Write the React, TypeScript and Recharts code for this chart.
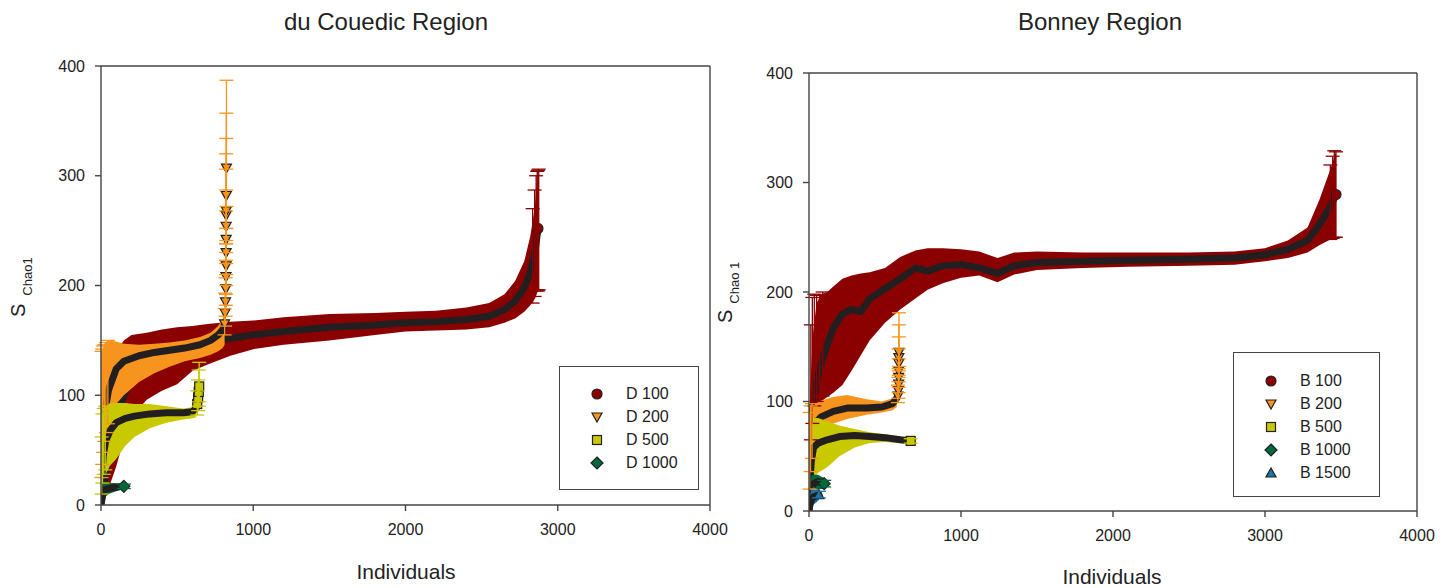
import { ComposedChart, Area, Line, Scatter, ErrorBar, XAxis, YAxis, ReferenceLine, Legend } from "recharts";

// rows: [individuals, S chao1, lower CI, upper CI]
type Row = [number, number, number, number];
// tips / caps: [individuals, S chao1, minus, plus]
type Tip = [number, number, number, number];

const X_TICKS = [0, 1000, 2000, 3000, 4000];
const Y_TICKS = [0, 100, 200, 300, 400];

// du Couedic region
const D100: Row[] = [
  [3, 3, 0, 15], [20, 20, 5, 60], [50, 45, 15, 110], [100, 80, 35, 140], [150, 100, 60, 150],
  [200, 115, 80, 155], [300, 127, 96, 157], [400, 135, 104, 160], [500, 141, 110, 162],
  [600, 146, 122, 163], [700, 149, 128, 165], [850, 152, 136, 167], [1000, 155, 142, 168],
  [1200, 158, 146, 171], [1500, 162, 150, 174], [1800, 164, 155, 175], [2000, 166, 158, 176],
  [2200, 167, 159, 177], [2400, 169, 160, 180], [2550, 172, 162, 184], [2650, 178, 166, 192],
  [2720, 186, 170, 204], [2780, 198, 176, 222], [2820, 212, 182, 245], [2850, 230, 188, 272],
  [2870, 252, 195, 305],
];
const D100_TIP: Tip[] = [[2870, 252, 57, 53]];
const D100_CAPS: Tip[] = [
  [2835, 222, 38, 48], [2848, 232, 42, 55], [2858, 240, 45, 60], [2865, 246, 50, 58], [2875, 250, 54, 56],
];

const D200: Row[] = [
  [2, 30, 15, 100], [10, 60, 35, 140], [25, 85, 55, 148], [50, 105, 75, 150], [100, 124, 92, 149],
  [150, 131, 100, 147], [250, 136, 112, 146], [350, 139, 120, 147], [450, 141, 126, 148],
  [550, 143, 131, 150], [650, 146, 134, 153], [720, 150, 137, 157], [770, 155, 140, 163],
  [800, 160, 143, 170], [812, 165, 146, 178],
];
const D200_TIP: Tip[] = [
  [812, 165, 10, 14], [815, 175, 12, 18], [818, 185, 13, 22], [820, 197, 15, 26], [821, 208, 16, 30],
  [822, 218, 18, 34], [822, 230, 20, 38], [822, 242, 22, 45], [822, 254, 24, 52], [822, 264, 26, 56],
  [823, 268, 27, 66], [823, 282, 30, 75], [824, 307, 35, 80],
];
const D200_CAPS: Tip[] = [
  [3, 45, 20, 95], [8, 62, 25, 80], [14, 75, 27, 70], [22, 88, 30, 58], [32, 98, 32, 50], [45, 104, 30, 46],
];

const D500: Row[] = [
  [1, 8, 2, 25], [5, 25, 10, 55], [15, 45, 20, 80], [30, 58, 28, 90], [60, 68, 36, 93],
  [100, 75, 42, 93], [160, 79, 54, 93], [220, 81, 62, 92], [320, 83, 70, 92], [430, 84, 75, 90],
  [540, 84, 78, 88], [600, 85, 79, 89], [625, 88, 80, 92],
];
const D500_TIP: Tip[] = [[632, 92, 10, 12], [638, 98, 12, 16], [642, 103, 13, 20], [645, 108, 14, 22]];
const D500_CAPS: Tip[] = [[4, 22, 12, 40], [10, 35, 15, 48], [18, 48, 20, 40], [28, 56, 24, 34]];

const D1000: Row[] = [
  [0, 0, 0, 2], [5, 5, 1, 14], [12, 10, 3, 20], [25, 14, 7, 21], [50, 15, 10, 20],
  [90, 16, 12, 20], [130, 17, 14, 19],
];
const D1000_TIP: Tip[] = [[150, 17, 2, 2]];

// Bonney region
const B100: Row[] = [
  [8, 60, 30, 110], [25, 95, 65, 160], [50, 118, 90, 190], [80, 135, 100, 198], [120, 152, 104, 200],
  [160, 167, 108, 205], [220, 180, 115, 212], [280, 184, 128, 215], [340, 182, 142, 217],
  [400, 194, 156, 218], [500, 203, 172, 222], [600, 212, 184, 232], [700, 222, 194, 238],
  [780, 219, 202, 240], [880, 224, 208, 240], [1000, 225, 213, 239], [1120, 222, 215, 237],
  [1240, 217, 209, 231], [1350, 224, 216, 236], [1500, 227, 220, 237], [1800, 228, 222, 236],
  [2100, 229, 223, 236], [2500, 230, 224, 236], [2800, 231, 225, 237], [3000, 234, 228, 240],
  [3150, 239, 231, 247], [3280, 247, 236, 259], [3360, 262, 243, 285], [3430, 278, 248, 312],
  [3467, 289, 250, 328],
];
const B100_TIP: Tip[] = [[3467, 289, 39, 39]];
const B100_CAPS: Tip[] = [
  [12, 100, 35, 70], [22, 110, 30, 85], [35, 118, 22, 80], [50, 125, 25, 72], [70, 135, 30, 62],
  [90, 145, 40, 55], [3430, 278, 30, 38], [3445, 282, 33, 42], [3456, 285, 35, 44],
];

const B200: Row[] = [
  [1, 15, 5, 50], [5, 45, 25, 85], [15, 68, 45, 95], [40, 80, 65, 98], [80, 86, 76, 101],
  [160, 91, 80, 104], [250, 94, 84, 106], [380, 94, 88, 102], [480, 95, 90, 100],
  [550, 98, 92, 103], [578, 103, 95, 110],
];
const B200_TIP: Tip[] = [
  [585, 105, 6, 10], [588, 110, 7, 12], [590, 116, 8, 14], [590, 122, 9, 17], [590, 128, 10, 20],
  [591, 135, 11, 24], [591, 140, 12, 30], [592, 145, 13, 36],
];
const B200_CAPS: Tip[] = [[4, 40, 20, 50], [10, 58, 22, 38], [20, 70, 22, 28]];

const B500: Row[] = [
  [1, 5, 1, 20], [5, 25, 10, 60], [15, 45, 22, 80], [30, 58, 30, 85], [60, 62, 35, 85],
  [120, 65, 40, 82], [200, 68, 50, 78], [300, 69, 58, 75], [400, 68, 62, 72], [500, 67, 63, 70],
  [600, 65, 62, 68], [669, 64, 62, 66],
];
const B500_TIP: Tip[] = [[669, 64, 2, 2]];

const B1000: Row[] = [
  [1, 2, 0, 6], [5, 10, 4, 22], [15, 20, 10, 32], [30, 25, 16, 33], [60, 27, 20, 33], [100, 25, 20, 30],
];
const B1000_TIP: Tip[] = [[100, 25, 3, 3]];

const B1500: Row[] = [
  [1, 1, 0, 3], [5, 5, 1, 12], [15, 10, 3, 20], [30, 13, 6, 22], [50, 14, 8, 20], [65, 15, 10, 18],
];
const B1500_TIP: Tip[] = [[65, 15, 3, 3]];

const FONT = "'Liberation Sans', Arial, Helvetica, sans-serif";
const INK = "#231f20";
const AXIS = "#444";

type Shape = "circle" | "down" | "square" | "diamond" | "up";

interface Series {
  name: string;
  color: string;
  shape: Shape;
  rows: Row[];
  tip: Tip[];
  caps?: Tip[];
}

const DU_COUEDIC: Series[] = [
  { name: "D 100", color: "#8b0000", shape: "circle", rows: D100, tip: D100_TIP, caps: D100_CAPS },
  { name: "D 200", color: "#f7941d", shape: "down", rows: D200, tip: D200_TIP, caps: D200_CAPS },
  { name: "D 500", color: "#c9c900", shape: "square", rows: D500, tip: D500_TIP, caps: D500_CAPS },
  { name: "D 1000", color: "#00693c", shape: "diamond", rows: D1000, tip: D1000_TIP },
];

const BONNEY: Series[] = [
  { name: "B 100", color: "#8b0000", shape: "circle", rows: B100, tip: B100_TIP, caps: B100_CAPS },
  { name: "B 200", color: "#f7941d", shape: "down", rows: B200, tip: B200_TIP, caps: B200_CAPS },
  { name: "B 500", color: "#c9c900", shape: "square", rows: B500, tip: B500_TIP },
  { name: "B 1000", color: "#00693c", shape: "diamond", rows: B1000, tip: B1000_TIP },
  { name: "B 1500", color: "#1b75a6", shape: "up", rows: B1500, tip: B1500_TIP },
];

const Marker = ({ cx, cy, fill, shape }: { cx: number; cy: number; fill: string; shape: Shape }) => {
  const h = 5;
  const common = { fill, stroke: INK, strokeWidth: 1.2 };
  if (shape === "circle") return <circle cx={cx} cy={cy} r={h} {...common} />;
  if (shape === "square") return <rect x={cx - 4.5} y={cy - 4.5} width={9} height={9} {...common} />;
  if (shape === "diamond")
    return <polygon points={`${cx},${cy - 6} ${cx + 6},${cy} ${cx},${cy + 6} ${cx - 6},${cy}`} {...common} />;
  if (shape === "up")
    return <polygon points={`${cx - h},${cy + 4} ${cx + h},${cy + 4} ${cx},${cy - 5}`} {...common} />;
  return <polygon points={`${cx - h},${cy - 4} ${cx + h},${cy - 4} ${cx},${cy + 5}`} {...common} />;
};

const YLabel = ({ x, y, sub, gap }: { x: number; y: number; sub: string; gap: number }) => (
  <text transform={`translate(${x},${y}) rotate(-90)`} fontFamily={FONT} fill="#222">
    <tspan fontSize={20}>S</tspan>
    <tspan fontSize={13} dx={gap} dy={7}>
      {sub}
    </tspan>
  </text>
);

interface PanelProps {
  left: number;
  title: string;
  titleX: number;
  labelX: number;
  labelTop: number;
  series: Series[];
  margin: { top: number; right: number; bottom: number; left: number };
  yLabel: { x: number; y: number; sub: string; gap: number };
  legendBox: { left: number; top: number; width: number; height: number; pad: number };
}

const Panel = ({ left, title, titleX, labelX, labelTop, series, margin, yLabel, legendBox }: PanelProps) => {
  const renderLegend = () => (
    <div
      style={{
        width: legendBox.width,
        height: legendBox.height,
        border: `1.4px solid ${AXIS}`,
        boxSizing: "border-box",
        background: "#fff",
        paddingTop: legendBox.pad,
        fontFamily: FONT,
        fontSize: 16,
        color: "#222",
      }}
    >
      {series.map((s) => (
        <div key={s.name} style={{ display: "flex", alignItems: "center", height: 23 }}>
          <svg width={66} height={20} style={{ flex: "none" }}>
            <Marker cx={37} cy={10} fill={s.color} shape={s.shape} />
          </svg>
          <span>{s.name}</span>
        </div>
      ))}
    </div>
  );

  return (
    <div style={{ position: "absolute", left, top: 0, width: 726, height: 588 }}>
      <div
        style={{
          position: "absolute",
          left: titleX - 200,
          width: 400,
          top: 9,
          textAlign: "center",
          fontFamily: FONT,
          fontSize: 24,
          lineHeight: "26px",
          color: "#222",
        }}
      >
        {title}
      </div>
      <ComposedChart width={726} height={588} margin={margin}>
        <XAxis
          type="number"
          dataKey="x"
          domain={[0, 4000]}
          ticks={X_TICKS}
          allowDataOverflow
          height={40}
          tickSize={6}
          tickMargin={13}
          stroke={AXIS}
          strokeWidth={1.4}
          tick={{ fill: "#222", fontSize: 16, fontFamily: FONT }}
        />
        <YAxis
          type="number"
          domain={[0, 400]}
          ticks={Y_TICKS}
          allowDataOverflow
          width={60}
          tickSize={6}
          tickMargin={10}
          stroke={AXIS}
          strokeWidth={1.4}
          tick={{ fill: "#222", fontSize: 16, fontFamily: FONT }}
          label={{ content: () => <YLabel {...yLabel} /> }}
        />
        <ReferenceLine y={400} stroke={AXIS} strokeWidth={1.4} ifOverflow="visible" />
        <ReferenceLine x={4000} stroke={AXIS} strokeWidth={1.4} ifOverflow="visible" />
        {series.flatMap((s, i) => {
          const band = s.rows.map(([x, y, lo, hi]) => ({ x, y, range: [lo, hi] }));
          const tip = s.tip.map(([x, y, minus, plus]) => ({ x, y, err: [minus, plus] }));
          const caps = (s.caps ?? []).map(([x, y, minus, plus]) => ({ x, y, err: [minus, plus] }));
          const items = [
            <Area
              key={`${s.name}-band`}
              data={band}
              dataKey="range"
              type="linear"
              stroke="none"
              fill={s.color}
              fillOpacity={1}
              dot={false}
              activeDot={false}
              isAnimationActive={false}
              legendType="none"
              zIndex={100 + i * 10}
            />,
            <Line
              key={`${s.name}-mean`}
              data={band}
              dataKey="y"
              type="linear"
              stroke={INK}
              strokeWidth={7}
              strokeLinejoin="round"
              strokeLinecap="round"
              dot={false}
              activeDot={false}
              isAnimationActive={false}
              legendType="none"
              zIndex={102 + i * 10}
            />,
            <Scatter
              key={`${s.name}-tip`}
              data={tip}
              dataKey="y"
              isAnimationActive={false}
              legendType="none"
              zIndex={103 + i * 10}
              shape={(p: any) => <Marker cx={p.cx} cy={p.cy} fill={s.color} shape={s.shape} />}
            >
              <ErrorBar dataKey="err" direction="y" width={7} stroke={s.color} strokeWidth={1.3} />
            </Scatter>,
          ];
          if (caps.length) {
            items.push(
              <Scatter
                key={`${s.name}-caps`}
                data={caps}
                dataKey="y"
                isAnimationActive={false}
                legendType="none"
                zIndex={101 + i * 10}
                shape={() => <g />}
              >
                <ErrorBar dataKey="err" direction="y" width={7} stroke={s.color} strokeWidth={1.3} />
              </Scatter>
            );
          }
          return items;
        })}
        <Legend
          layout="horizontal"
          verticalAlign="middle"
          align="center"
          content={renderLegend}
          wrapperStyle={{
            left: legendBox.left,
            top: legendBox.top,
            width: legendBox.width,
            height: legendBox.height,
          }}
        />
      </ComposedChart>
      <div
        style={{
          position: "absolute",
          left: labelX - 100,
          width: 200,
          top: labelTop,
          textAlign: "center",
          fontFamily: FONT,
          fontSize: 21,
          lineHeight: "22px",
          color: "#222",
        }}
      >
        Individuals
      </div>
    </div>
  );
};

export default function App() {
  return (
    <div style={{ position: "absolute", left: 0, top: 0, width: 1452, height: 588, background: "#fff" }}>
      <style>{`.recharts-surface { overflow: visible; } .recharts-wrapper { overflow: visible; }`}</style>
      <Panel
        left={0}
        title="du Couedic Region"
        titleX={386}
        labelX={406}
        labelTop={561}
        series={DU_COUEDIC}
        margin={{ top: 66, right: 16, bottom: 43, left: 41 }}
        yLabel={{ x: 25, y: 317, sub: "Chao1", gap: 8 }}
        legendBox={{ left: 559, top: 366, width: 140, height: 124, pad: 15 }}
      />
      <Panel
        left={726}
        title="Bonney Region"
        titleX={374}
        labelX={386}
        labelTop={566}
        series={BONNEY}
        margin={{ top: 73, right: 35, bottom: 37, left: 23 }}
        yLabel={{ x: 6, y: 323, sub: "Chao 1", gap: 6 }}
        legendBox={{ left: 507, top: 352, width: 147, height: 145, pad: 16 }}
      />
    </div>
  );
}
